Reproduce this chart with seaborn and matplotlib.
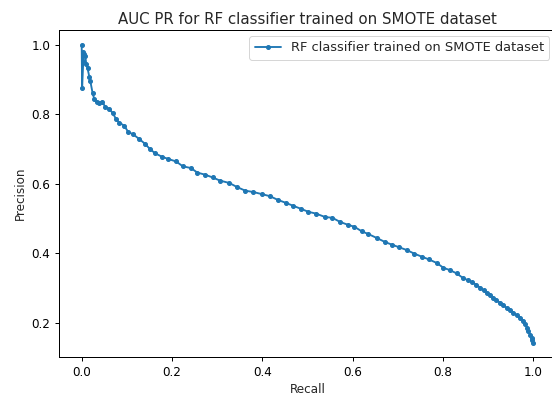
import matplotlib
matplotlib.use("Agg")
import matplotlib.pyplot as plt
import seaborn as sns
import pandas as pd

# Precision-recall points for the RF classifier (recall ascending)
recall = [
    0.000, 0.001, 0.0035, 0.0035, 0.006, 0.008, 0.010, 0.013, 0.017, 0.019,
    0.024, 0.028, 0.033, 0.039, 0.045, 0.052, 0.060, 0.069, 0.076, 0.083,
    0.094, 0.103, 0.114, 0.128, 0.140, 0.151, 0.162, 0.177, 0.192, 0.209,
    0.224, 0.242, 0.256, 0.273, 0.290, 0.306, 0.327, 0.343, 0.362, 0.380,
    0.399, 0.417, 0.435, 0.452, 0.469, 0.485, 0.502, 0.519, 0.539, 0.555,
    0.572, 0.589, 0.604, 0.620, 0.635, 0.653, 0.672, 0.686, 0.703, 0.720,
    0.736, 0.753, 0.769, 0.786, 0.801, 0.816, 0.830, 0.845, 0.856, 0.864,
    0.874, 0.882, 0.890, 0.897, 0.904, 0.911, 0.918, 0.926, 0.933, 0.941,
    0.948, 0.956, 0.963, 0.971, 0.977, 0.982, 0.986, 0.989, 0.993, 0.996,
    0.998, 1.000,
]
precision = [
    1.000, 0.876, 0.953, 0.980, 0.972, 0.968, 0.945, 0.932, 0.907, 0.896,
    0.862, 0.843, 0.835, 0.833, 0.836, 0.822, 0.816, 0.803, 0.786, 0.776,
    0.767, 0.749, 0.742, 0.728, 0.715, 0.700, 0.688, 0.678, 0.671, 0.664,
    0.650, 0.645, 0.632, 0.626, 0.618, 0.609, 0.602, 0.591, 0.580, 0.576,
    0.570, 0.564, 0.553, 0.545, 0.536, 0.528, 0.519, 0.514, 0.504, 0.502,
    0.490, 0.482, 0.476, 0.463, 0.455, 0.444, 0.432, 0.425, 0.417, 0.409,
    0.399, 0.390, 0.382, 0.372, 0.358, 0.351, 0.342, 0.328, 0.322, 0.317,
    0.309, 0.301, 0.293, 0.286, 0.279, 0.272, 0.265, 0.258, 0.250, 0.243,
    0.236, 0.229, 0.222, 0.214, 0.205, 0.195, 0.186, 0.176, 0.166, 0.157,
    0.150, 0.143,
]
series_label = "RF classifier trained on SMOTE dataset"
title = "AUC PR for RF classifier trained on SMOTE dataset"

df = pd.DataFrame({"Recall": recall, "Precision": precision})

sns.set_style("ticks")
plt.rcParams["font.family"] = ["DejaVu Sans"]
plt.rcParams["axes.edgecolor"] = "black"
plt.rcParams["xtick.color"] = "black"
plt.rcParams["ytick.color"] = "black"

s = 1.25  # overall scale of text and strokes
fig = plt.figure(figsize=(552 / 72, 398 / 72), dpi=72)
ax = fig.add_axes([59.1 / 552, 40.6 / 398, 496.8 / 552, 327.6 / 398])

color = "#1f77b4"
sns.lineplot(
    data=df, x="Recall", y="Precision", sort=False, estimator=None,
    marker=".", markersize=6 * s, markeredgecolor=color, markeredgewidth=1.0 * s,
    color=color, linewidth=1.5 * s, label=series_label, ax=ax,
)

for side in ["top", "right", "left", "bottom"]:
    ax.spines[side].set_visible(True)
    ax.spines[side].set_color("black")
    ax.spines[side].set_linewidth(0.8 * s)

ax.set_xticks([0.0, 0.2, 0.4, 0.6, 0.8, 1.0])
ax.set_yticks([0.2, 0.4, 0.6, 0.8, 1.0])
ax.tick_params(labelsize=9.6 * s, length=3.5 * s, width=0.8 * s, pad=3.5 * s,
               color="black", labelcolor="black")
ax.set_xlabel("Recall", fontsize=9.6 * s, labelpad=3 * s)
ax.set_ylabel("Precision", fontsize=9.6 * s, labelpad=3.5 * s)
ax.set_title(title, fontsize=12 * s, pad=5 * s)
ax.legend(loc="upper right", fontsize=10.4 * s, frameon=True)

fig.savefig("out.png", dpi=72, facecolor="white")
